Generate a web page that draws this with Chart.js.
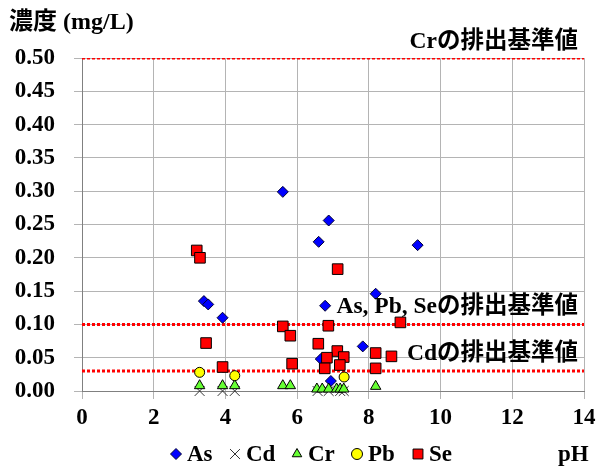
<!DOCTYPE html>
<html>
<head>
<meta charset="utf-8">
<script src="https://cdn.jsdelivr.net/npm/chart.js@4/dist/chart.umd.min.js"></script>
<style>
  html, body { margin: 0; padding: 0; background: #fff; }
  canvas { display: block; }
</style>
</head>
<body>
<canvas id="c" width="598" height="468" style="width:598px;height:468px"></canvas>
<script>
// Measured concentrations (mg/L) against pH, one list per element
const asPoints = [
  [5.60, 0.299], [6.88, 0.256], [6.60, 0.224], [9.36, 0.219], [8.19, 0.146],
  [6.78, 0.128], [3.40, 0.135], [3.52, 0.130], [3.92, 0.110], [7.83, 0.067],
  [6.66, 0.048], [6.94, 0.015]
];
const cdPoints = [
  [3.28, 0.000], [3.92, 0.000], [4.26, 0.000], [6.57, 0.000], [6.88, 0.000],
  [7.20, 0.000], [7.30, 0.000]
];
const crPoints = [
  [3.28, 0.008], [3.92, 0.008], [4.26, 0.008], [5.60, 0.008], [5.81, 0.008],
  [6.55, 0.003], [6.70, 0.003], [6.88, 0.003], [7.10, 0.003], [7.20, 0.003],
  [7.30, 0.003], [8.19, 0.007]
];
const pbPoints = [
  [3.28, 0.028], [4.26, 0.023], [7.31, 0.021]
];
const sePoints = [
  [3.20, 0.211], [3.29, 0.200], [3.46, 0.072], [3.92, 0.036], [5.60, 0.097],
  [5.81, 0.083], [5.86, 0.041], [7.13, 0.183], [6.87, 0.098], [6.59, 0.071],
  [8.88, 0.103], [7.12, 0.060], [6.83, 0.050], [7.30, 0.051], [7.19, 0.039],
  [6.77, 0.034], [8.19, 0.057], [8.19, 0.034], [8.63, 0.052]
];

// Discharge standards (mg/L) and their captions
const standardValues = [0.5, 0.1, 0.03];
const standardLabels = ['Crの排出基準値', 'As, Pb, Seの排出基準値', 'Cdの排出基準値'];

const xTicks = [0, 2, 4, 6, 8, 10, 12, 14];
const yTickStep = 0.05;

const FONT = "'Liberation Serif', 'Noto Sans CJK JP', serif";
const toXY = arr => arr.map(([x, y]) => ({ x, y }));

const series = [
  { label: 'As', data: asPoints, pointStyle: 'rectRot', radius: 5.5, bg: '#0000ff', border: '#000033', bw: 1, order: 4 },
  { label: 'Cd', data: cdPoints, pointStyle: 'crossRot', radius: 7, bg: '#333333', border: '#333333', bw: 1, order: 3 },
  { label: 'Cr', data: crPoints, pointStyle: 'triangle', radius: 6, bg: '#66ff33', border: '#000000', bw: 1, order: 2 },
  { label: 'Pb', data: pbPoints, pointStyle: 'circle', radius: 5, bg: '#ffff00', border: '#000000', bw: 1, order: 1 },
  { label: 'Se', data: sePoints, pointStyle: 'rect', radius: 7.5, bg: '#ff0000', border: '#000000', bw: 1, order: 0 }
];

const datasets = series.map(s => ({
  label: s.label,
  data: toXY(s.data),
  pointStyle: s.pointStyle,
  pointRadius: s.radius,
  pointBackgroundColor: s.bg,
  pointBorderColor: s.border,
  pointBorderWidth: s.bw,
  showLine: false,
  clip: false,
  order: s.order
}));

standardValues.forEach((v, i) => {
  datasets.push({
    label: 'std' + i,
    data: [{ x: xTicks[0], y: v }, { x: xTicks[xTicks.length - 1], y: v }],
    showLine: true,
    borderColor: '#ff0000',
    borderWidth: 3,
    borderDash: [3, 2],
    pointRadius: 0,
    order: 10
  });
});

const annotate = {
  id: 'annotate',
  afterDatasetsDraw(chart) {
    const ctx = chart.ctx;
    const ys = chart.scales.y;
    ctx.save();
    ctx.fillStyle = '#000';
    ctx.textBaseline = 'middle';

    // captions above each standard line
    const offsets = [-16, -17, -17];
    ctx.font = 'bold 23.5px ' + FONT;
    ctx.textAlign = 'right';
    standardValues.forEach((v, i) => {
      ctx.fillText(standardLabels[i], 578, ys.getPixelForValue(v) + offsets[i]);
    });

    // axis titles
    ctx.textAlign = 'left';
    ctx.font = 'bold 24px ' + FONT;
    ctx.fillText('濃度 (mg/L)', 9, 23);
    ctx.font = 'bold 23px ' + FONT;
    ctx.fillText('pH', 558, 455);

    // legend
    const legendX = [176, 235, 297, 357, 418];
    series.forEach((s, i) => {
      const mx = legendX[i], my = 454;
      ctx.fillStyle = s.bg;
      ctx.strokeStyle = s.border;
      ctx.lineWidth = s.bw;
      Chart.helpers.drawPoint(ctx, {
        pointStyle: s.pointStyle,
        radius: s.pointStyle === 'rect' ? 7 : (s.pointStyle === 'crossRot' ? 7 : 5.5),
        rotation: 0,
        borderWidth: s.bw
      }, mx, my);
      ctx.fillStyle = '#000';
      ctx.fillText(s.label, mx + 11, my + 1);
    });
    ctx.restore();
  }
};

new Chart(document.getElementById('c'), {
  type: 'scatter',
  data: { datasets },
  options: {
    responsive: false,
    animation: false,
    events: [],
    layout: { padding: { left: 0, right: 14, top: 58, bottom: 33 } },
    plugins: { legend: { display: false }, tooltip: { enabled: false } },
    scales: {
      x: {
        type: 'linear',
        min: xTicks[0],
        max: xTicks[xTicks.length - 1],
        afterBuildTicks(scale) { scale.ticks = xTicks.map(v => ({ value: v })); },
        ticks: { color: '#000', font: { family: FONT, size: 23, weight: 'bold' }, padding: 5, maxRotation: 0 },
        grid: { color: '#b4b4b4', tickLength: 8, lineWidth: 1 },
        border: { color: '#808080' },
        afterFit(scale) {
          scale.height = 44;
          scale.paddingLeft = 0;
          scale.paddingRight = 0;
        }
      },
      y: {
        min: 0,
        max: 0.5,
        ticks: {
          stepSize: yTickStep,
          color: '#000',
          font: { family: FONT, size: 23, weight: 'bold' },
          padding: 19,
          callback: v => Number(v).toFixed(2)
        },
        grid: { color: '#b4b4b4', tickLength: 8, lineWidth: 1 },
        border: { color: '#808080' },
        afterFit(scale) {
          scale.width = 82;
          scale.paddingTop = 0;
          scale.paddingBottom = 0;
        }
      }
    }
  },
  plugins: [annotate]
});
</script>
</body>
</html>
